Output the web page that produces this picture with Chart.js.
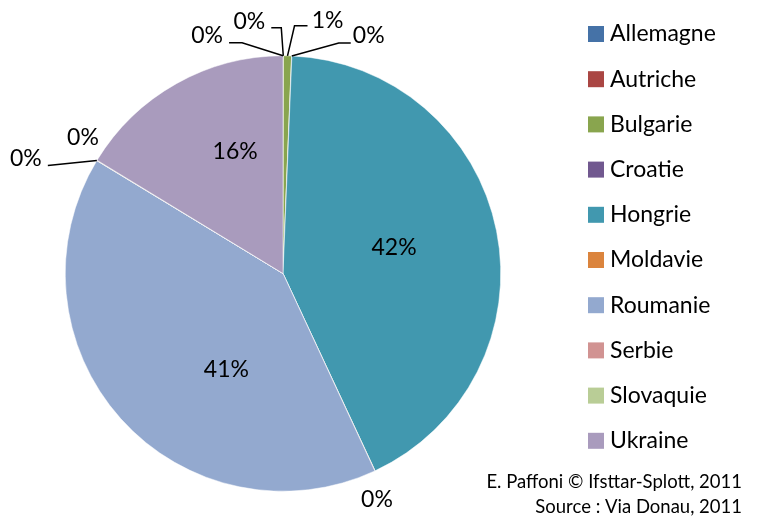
<!DOCTYPE html>
<html>
<head>
<meta charset="utf-8">
<script src="https://cdn.jsdelivr.net/npm/chart.js@4.4.0/dist/chart.umd.min.js"></script>
<style>
  html, body { margin: 0; padding: 0; background: #fff; }
  canvas { display: block; }
</style>
</head>
<body>
<canvas id="pieChart" width="758" height="523"></canvas>
<script>
const pays = ['Allemagne', 'Autriche', 'Bulgarie', 'Croatie', 'Hongrie', 'Moldavie', 'Roumanie', 'Serbie', 'Slovaquie', 'Ukraine'];
const parts = [0.01, 0.02, 0.6, 0.02, 42.4, 0.02, 40.6, 0.02, 0.02, 16.29];
const couleurs = ['#4572A7', '#AA4643', '#89A54E', '#71588F', '#4198AF', '#DB843D', '#93A9CF', '#D19392', '#B9CD96', '#A99BBD'];
const credits = ['E. Paffoni © Ifsttar-Splott, 2011', 'Source : Via Donau, 2011'];

const police = "Lato, 'Open Sans', sans-serif";

// position des étiquettes : 'in' = relatif au centre (en rayons),
// 'ext' = relatif au point du bord, avec ligne de rappel éventuelle
const placement = [
    { type: 'ext', texte: [-76, -20], ligne: [[-41, -13], [-54, -13]] },
    { type: 'ext', texte: [-34, -34], ligne: [[-2, -28], [-12, -28]] },
    { type: 'ext', texte: [40, -35], ligne: [[7, -30], [20, -30]] },
    { type: 'ext', texte: [77, -20], ligne: [[47, -13], [59, -13]] },
    { type: 'in', pos: [0.51, -0.12] },
    { type: 'ext', texte: [2, 29], ligne: null },
    { type: 'in', pos: [-0.26, 0.44] },
    { type: 'ext', texte: [-71, -2], ligne: [[-49, 5]] },
    { type: 'ext', texte: [-14, -23], ligne: null },
    { type: 'in', pos: [-0.22, -0.56] }
];

const total = parts.reduce((a, b) => a + b, 0);

const etiquettesPlugin = {
    id: 'etiquettes',
    afterDatasetsDraw(chart) {
        const ctx = chart.ctx;
        const arcs = chart.getDatasetMeta(0).data;
        ctx.save();
        ctx.font = '23px ' + police;
        ctx.fillStyle = '#000';
        ctx.strokeStyle = '#000';
        ctx.lineWidth = 1.5;
        ctx.textAlign = 'center';
        ctx.textBaseline = 'middle';
        arcs.forEach((arc, i) => {
            const p = arc.getProps(['x', 'y', 'startAngle', 'endAngle', 'outerRadius'], true);
            const txt = Math.round(parts[i] / total * 100) + '%';
            const cfg = placement[i];
            if (cfg.type === 'in') {
                ctx.fillText(txt, p.x + cfg.pos[0] * p.outerRadius, p.y + cfg.pos[1] * p.outerRadius);
                return;
            }
            const mid = (p.startAngle + p.endAngle) / 2;
            const ax = p.x + Math.cos(mid) * p.outerRadius;
            const ay = p.y + Math.sin(mid) * p.outerRadius;
            if (cfg.ligne) {
                ctx.beginPath();
                ctx.moveTo(ax, ay);
                cfg.ligne.forEach(pt => ctx.lineTo(ax + pt[0], ay + pt[1]));
                ctx.stroke();
            }
            ctx.fillText(txt, ax + cfg.texte[0], ay + cfg.texte[1]);
        });
        ctx.restore();
    }
};

// légende à droite + crédits
const legendePlugin = {
    id: 'legende',
    afterDraw(chart) {
        const ctx = chart.ctx;
        ctx.save();
        ctx.textBaseline = 'middle';
        ctx.font = '23px ' + police;
        pays.forEach((nom, i) => {
            const y = 34 + i * 45.2;
            ctx.fillStyle = couleurs[i];
            ctx.fillRect(588, y - 8, 16, 16);
            ctx.fillStyle = '#000';
            ctx.textAlign = 'left';
            ctx.fillText(nom, 610, y);
        });
        ctx.font = '18.5px ' + police;
        ctx.textAlign = 'right';
        ctx.fillText(credits[0], 742, 482);
        ctx.fillText(credits[1], 742, 507);
        ctx.restore();
    }
};

new Chart(document.getElementById('pieChart'), {
    type: 'pie',
    data: {
        labels: pays,
        datasets: [{
            data: parts,
            backgroundColor: couleurs,
            borderColor: '#ffffff',
            borderWidth: 0.5
        }]
    },
    options: {
        responsive: false,
        animation: false,
        devicePixelRatio: 1,
        layout: { padding: { left: 65, top: 55, right: 257, bottom: 31 } },
        plugins: {
            legend: { display: false },
            tooltip: { enabled: false }
        }
    },
    plugins: [etiquettesPlugin, legendePlugin]
});
</script>
</body>
</html>
